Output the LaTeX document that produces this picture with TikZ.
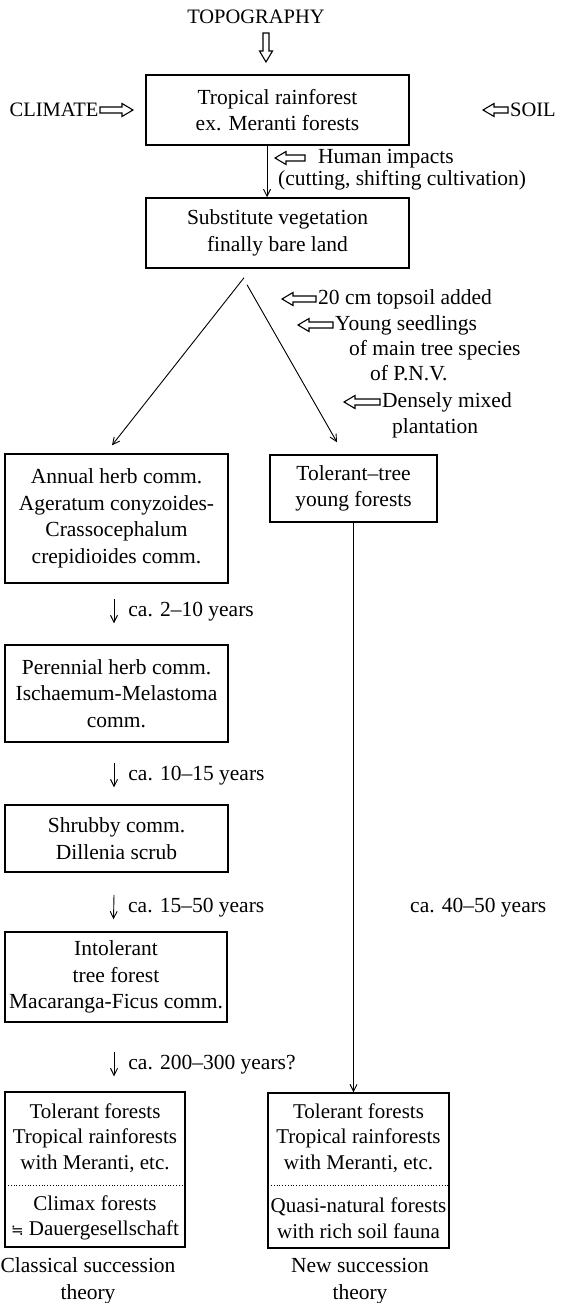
\documentclass[tikz,border=0pt]{standalone}
\usepackage{fontspec}
\setmainfont{Liberation Serif}
\newfontfamily\symfont{DejaVu Sans}
\usetikzlibrary{arrows.meta}
\begin{document}
\begin{tikzpicture}[x=1pt,y=1pt,
  every node/.style={font=\fontsize{21.5}{26.5}\selectfont, inner sep=0pt},
  box/.style={draw, line width=1.5pt, align=center},
  lbl/.style={anchor=west, text height=15pt, text depth=5pt},
  caps/.style={font=\fontsize{20.5}{24}\selectfont, text height=14pt, text depth=0pt},
  small/.style={font=\fontsize{21}{25.5}\selectfont, align=center},
  arr/.style={line width=0.9pt, -{Straight Barb[length=7pt,width=7pt]}},
  dotline/.style={line width=1pt, dash pattern=on 1pt off 1.8pt},
  harrow/.pic={\draw[line width=1.1pt, line join=miter] (0,-3) -- ({#1-11},-3) -- ({#1-11},-6.5) -- (#1,0) -- ({#1-11},6.5) -- ({#1-11},3) -- (0,3) -- cycle;}
]
\fill[white] (0,0) rectangle (578,-1303);
\useasboundingbox (0,0) rectangle (578,-1303);

% top labels
\node[caps] (topo) at (256,-17) {TOPOGRAPHY};
\node[caps] (climate) at (54,-110) {CLIMATE};
\node[caps, anchor=west] (soil) at (510,-110) {SOIL};
\pic[rotate=-90] at (266,-33) {harrow=29};
\pic at (100,-110) {harrow=33};
\pic[rotate=180] at (508,-110) {harrow=25};

% boxes
\node[box, minimum width=263pt, minimum height=70pt] (b1) at (277.5,-110) {Tropical rainforest\\ex. Meranti forests};
\node[box, minimum width=263pt, minimum height=70pt] (b2) at (277.5,-233) {Substitute vegetation\\finally bare land};
\node[box, minimum width=223pt, minimum height=129pt] (b3) at (116.5,-518.5) {Annual herb comm.\\Ageratum conyzoides-\\Crassocephalum\\crepidioides comm.};
\node[box, minimum width=167pt, minimum height=67pt] (b4) at (353.5,-488.5) {Tolerant--tree\\young forests};
\node[box, minimum width=223pt, minimum height=97pt] (b5) at (116.5,-693.5) {Perennial herb comm.\\Ischaemum-Melastoma\\comm.};
\node[box, minimum width=223pt, minimum height=67pt] (b6) at (116.5,-838.5) {Shrubby comm.\\Dillenia scrub};
\node[box, minimum width=222pt, minimum height=90pt] (b7) at (116,-977) {Intolerant\\tree forest\\Macaranga-Ficus comm.};
\node[box, minimum width=180pt, minimum height=155pt] (b9) at (95,-1169.5) {};
\node[box, minimum width=181pt, minimum height=155pt] (b8) at (358.5,-1170.5) {};

% bottom box contents
\node[small] (t9a) at (95,-1138) {Tolerant forests\\Tropical rainforests\\with Meranti, etc.};
\node[small] (t9b) at (95,-1218) {Climax forests\\{\symfont\fontsize{15}{20}\selectfont ≒} Dauergesellschaft};
\node[small] (t8a) at (358.5,-1138) {Tolerant forests\\Tropical rainforests\\with Meranti, etc.};
\node[small] (t8b) at (358.5,-1218) {Quasi-natural forests\\with rich soil fauna};
\coordinate (dy) at (0,-1185);
\draw[dotline] ([xshift=1pt]b9.west |- dy) -- ([xshift=-1pt]b9.east |- dy);
\draw[dotline] ([xshift=1pt]b8.west |- dy) -- ([xshift=-1pt]b8.east |- dy);

% captions
\node[align=center] (cap9) at (88,-1281) {Classical succession\\theory};
\node[align=center] (cap8) at (360,-1281) {New succession\\theory};

% human impacts
\draw[arr] ([xshift=-10.5pt]b1.south) -- ([xshift=-10.5pt]b2.north);
\pic[rotate=180] at (305,-158) {harrow=30};
\node[lbl] (hum) at (318,-158) {Human impacts};
\node[lbl] (cut) at (278,-180) {(cutting, shifting cultivation)};

% branches
\draw[arr] ([xshift=-33.5pt,yshift=-9pt]b2.south) -- ([xshift=-4.5pt,yshift=8pt]b3.north);
\draw[arr] ([xshift=-30.5pt,yshift=-16pt]b2.south) -- ([xshift=-16.5pt,yshift=12pt]b4.north);

% plantation annotations
\pic[rotate=180] at (316,-299) {harrow=34};
\node[lbl] (tps) at (318,-299) {20 cm topsoil added};
\pic[rotate=180] at (333,-325) {harrow=35};
\node[lbl] (yng) at (335,-325) {Young seedlings};
\node[lbl] (spc) at (349,-350) {of main tree species};
\node[lbl] (pnv) at (370,-375) {of P.N.V.};
\pic[rotate=180] at (380,-402) {harrow=36};
\node[lbl] (dns) at (382,-402) {Densely mixed};
\node[lbl] (plt) at (392,-428) {plantation};

% succession arrows
\draw[arr] ([xshift=-2.5pt,yshift=-15pt]b3.south) -- ([xshift=-2.5pt,yshift=21pt]b5.north) node[lbl, midway, xshift=14pt] (l1) {ca. 2--10 years};
\draw[arr] ([xshift=-2.5pt,yshift=-20pt]b5.south) -- ([xshift=-2.5pt,yshift=17pt]b6.north) node[lbl, midway, xshift=14pt] (l2) {ca. 10--15 years};
\draw[arr] ([xshift=-2.5pt,yshift=-22pt]b6.south) -- ([xshift=-2.5pt,yshift=12pt]b7.north) node[lbl, midway, xshift=14pt] (l3) {ca. 15--50 years};
\draw[arr] ([xshift=-2pt,yshift=-29pt]b7.south) -- ([xshift=19pt,yshift=15pt]b9.north) node[lbl, midway, xshift=14pt] (l4) {ca. 200--300 years?};

% right column
\draw[arr] (b4.south) -- (b4.south |- b8.north);
\node[lbl] (l5) at (410,-907) {ca. 40--50 years};
\end{tikzpicture}
\end{document}
